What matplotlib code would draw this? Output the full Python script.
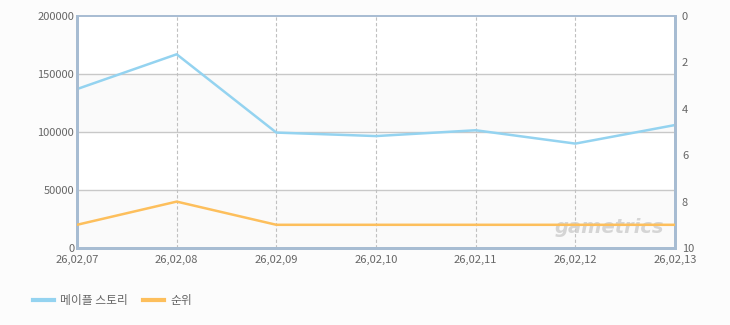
import matplotlib
matplotlib.use("Agg")
import matplotlib.pyplot as plt

plt.rcParams['font.family'] = ['Noto Sans CJK KR', 'DejaVu Sans']

# Données
dates = ['26,02,07', '26,02,08', '26,02,09', '26,02,10', '26,02,11', '26,02,12', '26,02,13']
joueurs = [137000, 167000, 99500, 96500, 101500, 90000, 106000]
rang = [9, 8, 9, 9, 9, 9, 9]

bleu = '#94d3f0'
orange = '#fdbf5c'
bord = '#a7bcd2'
gris_txt = '#666666'

fig = plt.figure(figsize=(7.3, 3.25), dpi=100, facecolor='#fcfcfc')
ax = fig.add_axes([77 / 730, 77 / 325, 598 / 730, 232 / 325])
ax2 = ax.twinx()

x = list(range(len(dates)))

# Bandes alternées
for i, (lo, hi) in enumerate([(0, 50000), (50000, 100000), (100000, 150000), (150000, 200000)]):
    ax.axhspan(lo, hi, color='#fafafa' if i % 2 == 0 else 'white', zorder=0, lw=0)

for v in [50000, 100000, 150000]:
    ax.axhline(v, color='#c8c8c8', lw=1, zorder=1)
for xi in x[1:-1]:
    ax.axvline(xi, color='#c0c0c0', lw=0.8, ls=(0, (3, 2)), zorder=1)

# Filigrane (derrière les courbes)
ax2.text(0.89, 0.09, 'gametrics', transform=ax2.transAxes, fontsize=14,
         fontweight='bold', style='italic', color='#cccccc', ha='center',
         va='center', family='DejaVu Sans', alpha=0.8, zorder=1)

ax.plot(x, joueurs, color=bleu, lw=1.8, zorder=3, label='메이플 스토리')
ax2.plot(x, rang, color=orange, lw=1.8, zorder=3, label='순위')

ax.set_xlim(0, len(dates) - 1)
ax.set_ylim(0, 200000)
ax2.set_ylim(10, 0)

ax.set_yticks([0, 50000, 100000, 150000, 200000])
ax2.set_yticks([0, 2, 4, 6, 8, 10])
ax.set_xticks(x)
ax.set_xticklabels(dates)

ax.tick_params(axis='both', length=0, labelsize=8, colors=gris_txt, pad=2)
ax.tick_params(axis='x', pad=5)
ax2.tick_params(axis='y', length=0, labelsize=8, colors=gris_txt, pad=5)

for a in (ax, ax2):
    for side in ['left', 'bottom', 'right']:
        a.spines[side].set_color(bord)
        a.spines[side].set_linewidth(2)
    a.spines['top'].set_color(bord)
    a.spines['top'].set_linewidth(1.2)

# Légende
h1, l1 = ax.get_legend_handles_labels()
h2, l2 = ax2.get_legend_handles_labels()
leg = fig.legend(h1 + h2, l1 + l2, loc='center left', bbox_to_anchor=(0.03, 0.075),
                 ncol=2, frameon=False, fontsize=8.5, handlelength=1.8,
                 columnspacing=1.3, handletextpad=0.5)
for t in leg.get_texts():
    t.set_color(gris_txt)
for l in leg.get_lines():
    l.set_linewidth(3)

fig.savefig('out.png', dpi=100, facecolor=fig.get_facecolor())
